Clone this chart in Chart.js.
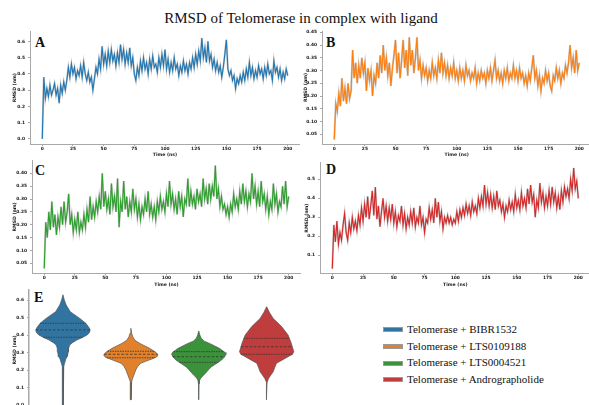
<!DOCTYPE html>
<html><head><meta charset="utf-8">
<script src="https://cdn.jsdelivr.net/npm/chart.js@4.4.0/dist/chart.umd.min.js"></script>
<style>
html,body{margin:0;padding:0;width:589px;height:405px;overflow:hidden;background:#fff;position:relative}
canvas{position:absolute}
.t{position:absolute;font-family:"Liberation Serif","Times New Roman",serif;color:#111;white-space:nowrap;line-height:1}
.lt{font-weight:bold;font-size:14px}
.patch{position:absolute;width:20px;height:5px;border:0.5px solid #999;box-sizing:border-box}
</style></head><body>
<div class="t" style="left:0;width:602px;text-align:center;top:11.4px;font-size:15px">RMSD of Telomerase in complex with ligand</div>
<div class="t lt" style="left:35px;top:36px">A</div>
<div class="t lt" style="left:326px;top:35.6px">B</div>
<div class="t lt" style="left:35px;top:163.5px">C</div>
<div class="t lt" style="left:326px;top:162.6px">D</div>
<div class="t lt" style="left:34px;top:290.6px">E</div>
<div id="legend"></div>
<script>
// ---------- data ----------
const timeStart = 0, timeEnd = 200;
const xTicks = [0,25,50,75,100,125,150,175,200];
const xTickLabels = ['0','25','50','75','100','125','150','175','200'];

const series = ['Telomerase + BIBR1532','Telomerase + LTS0109188','Telomerase + LTS0004521','Telomerase + Andrographolide'];

const rmsdA = [0.00,0.38,0.25,0.31,0.26,0.33,0.27,0.30,0.34,0.27,
0.31,0.22,0.33,0.28,0.35,0.30,0.36,0.44,0.38,0.46,
0.40,0.44,0.37,0.42,0.39,0.45,0.38,0.47,0.40,0.36,
0.41,0.35,0.38,0.30,0.37,0.44,0.40,0.49,0.43,0.57,
0.46,0.52,0.45,0.54,0.47,0.55,0.48,0.52,0.45,0.53,
0.47,0.58,0.49,0.55,0.46,0.53,0.47,0.56,0.45,0.50,
0.40,0.36,0.44,0.39,0.48,0.42,0.50,0.43,0.47,0.40,
0.49,0.43,0.51,0.44,0.46,0.41,0.50,0.44,0.52,0.45,
0.55,0.43,0.49,0.41,0.47,0.42,0.50,0.43,0.46,0.39,
0.45,0.41,0.48,0.42,0.46,0.40,0.47,0.43,0.50,0.44,
0.52,0.46,0.54,0.48,0.62,0.50,0.56,0.47,0.60,0.48,
0.52,0.44,0.49,0.42,0.47,0.41,0.45,0.38,0.44,0.52,
0.61,0.43,0.39,0.42,0.36,0.39,0.31,0.37,0.34,0.39,
0.35,0.41,0.36,0.43,0.38,0.47,0.39,0.44,0.37,0.42,
0.38,0.45,0.40,0.43,0.37,0.44,0.39,0.46,0.40,0.42,
0.36,0.48,0.41,0.44,0.38,0.43,0.36,0.41,0.37,0.43,
0.39];
const rmsdB = [0.03,0.17,0.14,0.21,0.16,0.27,0.18,0.23,0.17,0.25,
0.19,0.22,0.38,0.27,0.33,0.25,0.32,0.27,0.35,0.29,
0.33,0.22,0.31,0.26,0.30,0.20,0.28,0.25,0.33,0.27,
0.36,0.29,0.40,0.30,0.35,0.28,0.33,0.24,0.31,0.36,
0.42,0.29,0.37,0.27,0.34,0.42,0.31,0.38,0.28,0.43,
0.32,0.38,0.29,0.35,0.43,0.30,0.34,0.27,0.32,0.28,
0.31,0.26,0.30,0.27,0.33,0.28,0.31,0.27,0.34,0.29,
0.37,0.29,0.33,0.28,0.32,0.27,0.31,0.28,0.33,0.27,
0.30,0.26,0.31,0.27,0.30,0.26,0.32,0.28,0.30,0.26,
0.29,0.27,0.31,0.25,0.29,0.26,0.30,0.27,0.29,0.25,
0.30,0.27,0.31,0.26,0.30,0.34,0.27,0.30,0.26,0.29,
0.25,0.30,0.27,0.31,0.26,0.29,0.27,0.32,0.27,0.30,
0.26,0.31,0.27,0.29,0.25,0.28,0.24,0.29,0.26,0.31,
0.36,0.27,0.30,0.24,0.28,0.22,0.27,0.25,0.30,0.26,
0.29,0.24,0.22,0.28,0.26,0.31,0.27,0.30,0.25,0.29,
0.27,0.32,0.29,0.33,0.40,0.31,0.35,0.29,0.38,0.30,
0.33];
const rmsdC = [0.03,0.21,0.15,0.25,0.18,0.29,0.19,0.24,0.16,0.23,
0.19,0.27,0.20,0.29,0.21,0.25,0.32,0.20,0.24,0.17,
0.22,0.18,0.25,0.17,0.21,0.18,0.24,0.19,0.26,0.21,
0.31,0.22,0.27,0.23,0.29,0.25,0.31,0.26,0.40,0.27,
0.33,0.26,0.30,0.24,0.36,0.27,0.31,0.25,0.38,0.19,
0.29,0.25,0.37,0.26,0.31,0.23,0.29,0.25,0.34,0.26,
0.30,0.23,0.28,0.22,0.27,0.24,0.30,0.25,0.33,0.24,
0.28,0.23,0.27,0.22,0.29,0.25,0.31,0.26,0.29,0.25,
0.32,0.27,0.37,0.28,0.32,0.26,0.30,0.24,0.33,0.27,
0.31,0.23,0.30,0.28,0.38,0.27,0.33,0.28,0.31,0.26,
0.34,0.29,0.32,0.27,0.38,0.30,0.34,0.28,0.36,0.30,
0.35,0.31,0.43,0.30,0.34,0.27,0.31,0.26,0.28,0.24,
0.27,0.23,0.28,0.25,0.32,0.27,0.30,0.26,0.33,0.28,
0.36,0.29,0.33,0.27,0.32,0.29,0.40,0.30,0.35,0.28,
0.33,0.27,0.37,0.29,0.32,0.26,0.31,0.24,0.29,0.26,
0.36,0.28,0.32,0.25,0.29,0.27,0.35,0.28,0.37,0.27,
0.31];
const rmsdD = [0.03,0.26,0.17,0.28,0.16,0.22,0.18,0.26,0.32,0.22,
0.18,0.27,0.22,0.30,0.24,0.28,0.23,0.31,0.26,0.35,
0.28,0.37,0.30,0.41,0.29,0.36,0.44,0.31,0.46,0.29,
0.36,0.25,0.33,0.40,0.30,0.36,0.28,0.35,0.29,0.37,
0.27,0.33,0.25,0.31,0.28,0.36,0.26,0.32,0.24,0.30,
0.26,0.33,0.27,0.35,0.25,0.30,0.27,0.36,0.26,0.30,
0.22,0.29,0.27,0.35,0.29,0.34,0.27,0.40,0.30,0.38,
0.28,0.33,0.24,0.30,0.27,0.31,0.27,0.30,0.26,0.29,
0.27,0.33,0.28,0.34,0.30,0.35,0.31,0.37,0.32,0.36,
0.31,0.38,0.33,0.36,0.32,0.40,0.35,0.41,0.36,0.47,
0.37,0.43,0.36,0.42,0.35,0.41,0.34,0.44,0.36,0.39,
0.33,0.37,0.30,0.36,0.33,0.39,0.34,0.38,0.33,0.42,
0.35,0.39,0.34,0.43,0.36,0.40,0.35,0.45,0.37,0.47,
0.38,0.42,0.30,0.39,0.35,0.48,0.38,0.43,0.35,0.41,
0.36,0.44,0.37,0.46,0.38,0.43,0.35,0.41,0.34,0.44,
0.38,0.46,0.41,0.45,0.40,0.50,0.44,0.56,0.45,0.49,
0.40];

const yTicksA = [0.0,0.1,0.2,0.3,0.4,0.5,0.6];
const yTickLabelsA = ['0.0','0.1','0.2','0.3','0.4','0.5','0.6'];
const yTicksB = [0.05,0.10,0.15,0.20,0.25,0.30,0.35,0.40,0.45];
const yTickLabelsB = ['0.05','0.10','0.15','0.20','0.25','0.30','0.35','0.40','0.45'];
const yTicksC = [0.05,0.10,0.15,0.20,0.25,0.30,0.35,0.40];
const yTickLabelsC = ['0.05','0.10','0.15','0.20','0.25','0.30','0.35','0.40'];
const yTicksD = [0.1,0.2,0.3,0.4,0.5];
const yTickLabelsD = ['0.1','0.2','0.3','0.4','0.5'];
const yTicksE = [0.0,0.1,0.2,0.3,0.4,0.5,0.6];
const yTickLabelsE = ['0.0','0.1','0.2','0.3','0.4','0.5','0.6'];

// violin profiles: RMSD level (top to bottom) and relative half-width (0..1)
const violinLevels = [
 [0.63,0.60,0.571,0.533,0.495,0.467,0.445,0.429,0.415,0.40,0.385,0.371,0.355,0.343,0.325,0.305,0.29,0.276,0.26,0.238,0.22,0.20,0.0],
 [0.438,0.41,0.39,0.37,0.352,0.324,0.30,0.286,0.275,0.267,0.25,0.238,0.22,0.20,0.171,0.15,0.133,0.11,0.03],
 [0.423,0.40,0.381,0.365,0.352,0.324,0.30,0.29,0.275,0.257,0.24,0.219,0.20,0.181,0.165,0.152,0.14,0.12,0.03],
 [0.562,0.53,0.495,0.448,0.40,0.352,0.32,0.305,0.29,0.276,0.255,0.238,0.215,0.19,0.17,0.152,0.13,0.11,0.03]
];
const violinWidths = [
 [0,0.05,0.12,0.27,0.62,0.84,0.95,1.0,0.98,0.89,0.70,0.51,0.34,0.25,0.21,0.20,0.18,0.15,0.10,0.06,0.03,0.015,0.006],
 [0,0.03,0.07,0.15,0.33,0.69,0.93,1.0,0.95,0.84,0.55,0.36,0.25,0.18,0.11,0.06,0.03,0.012,0.006],
 [0,0.04,0.09,0.20,0.40,0.76,0.97,1.0,0.95,0.84,0.68,0.47,0.35,0.25,0.14,0.07,0.03,0.012,0.006],
 [0,0.10,0.24,0.55,0.79,0.91,0.97,1.0,0.95,0.79,0.55,0.36,0.30,0.24,0.15,0.07,0.02,0.01,0.006]
];
const quartiles = [
 [0.387,0.429,0.467],
 [0.270,0.290,0.307],
 [0.244,0.276,0.305],
 [0.290,0.333,0.381]
];

// ---------- styles ----------
const lineColors = ['#1f77b4','#ff7f0e','#2ca02c','#d62728'];
const violinColors = ['#3274a1','#e1812c','#3a923a','#c03d3e'];
const axisColor = '#a8a8a8';
const tickFont = {family:'DejaVu Sans', size:4.4, weight:'bold'};
const titleFont = {family:'DejaVu Sans', size:4.6, weight:'bold'};

Chart.defaults.animation = false;

function setTicks(vals){ return s => { s.ticks = vals.map(v=>({value:v})); }; }

function makeTS(p){
  const cv = document.createElement('canvas');
  const xH = 14, padTop = 8;
  const top = Math.floor(p.T) - padTop;
  const w = Math.ceil(p.R - p.axisLeft);
  const h = Math.ceil(p.B + xH - top);
  cv.width = w; cv.height = h;
  cv.style.left = p.axisLeft + 'px'; cv.style.top = top + 'px';
  cv.style.width = w + 'px'; cv.style.height = h + 'px';
  document.body.appendChild(cv);
  const yW = p.L - p.axisLeft;
  const pts = p.values.map((v,i)=>({x: timeStart + i*(timeEnd-timeStart)/(p.values.length-1), y: v}));
  new Chart(cv, {
    type:'line',
    data:{datasets:[
      {data:pts, borderColor:'rgba(120,120,120,0.4)', borderWidth:2, pointRadius:0, tension:0, order:2},
      {data:pts, borderColor:p.color, borderWidth:1.1, pointRadius:0, tension:0, order:1}
    ]},
    options:{
      responsive:false, devicePixelRatio:1, animation:false,
      layout:{padding:{top:p.T-top, right:w-(p.R-p.axisLeft), bottom:h-(p.B+xH-top), left:0}},
      plugins:{legend:{display:false}, tooltip:{enabled:false}},
      scales:{
        x:{type:'linear', min:-10, max:210,
           afterBuildTicks:setTicks(xTicks), afterFit:s=>{s.height=xH;},
           ticks:{font:tickFont, color:'#1a1a1a', padding:0, maxRotation:0, autoSkip:false, callback:(v,i)=>xTickLabels[i]},
           grid:{display:true, drawOnChartArea:false, tickLength:2, color:axisColor},
           border:{display:true, color:axisColor, width:1},
           title:{display:true, text:'Time (ns)', font:titleFont, color:'#1a1a1a', padding:0}},
        y:{type:'linear', min:p.yMin, max:p.yMax,
           afterBuildTicks:setTicks(p.yTicks), afterFit:s=>{s.width=yW;},
           ticks:{font:tickFont, color:'#1a1a1a', padding:3, autoSkip:false, callback:(v,i)=>p.yLabels[i]},
           grid:{display:true, drawOnChartArea:false, tickLength:2, color:axisColor},
           border:{display:true, color:axisColor, width:1},
           title:{display:true, text:'RMSD (nm)', font:titleFont, color:'#1a1a1a', padding:0}}
      }
    }
  });
}

makeTS({axisLeft:12, L:30, R:300, T:31.4, B:144, yMin:-0.0315, yMax:0.6615, yTicks:yTicksA, yLabels:yTickLabelsA, values:rmsdA, color:lineColors[0]});
makeTS({axisLeft:303, L:322, R:591.5, T:31, B:144, yMin:0.012, yMax:0.455, yTicks:yTicksB, yLabels:yTickLabelsB, values:rmsdB, color:lineColors[1]});
makeTS({axisLeft:12, L:32, R:300.9, T:160.5, B:273.3, yMin:0.011, yMax:0.45, yTicks:yTicksC, yLabels:yTickLabelsC, values:rmsdC, color:lineColors[2]});
makeTS({axisLeft:304, L:320, R:590.6, T:162.9, B:273.3, yMin:0.0053, yMax:0.5865, yTicks:yTicksD, yLabels:yTickLabelsD, values:rmsdD, color:lineColors[3]});

// ---------- violin panel ----------
function halfWidthAt(levels, widths, q){
  for(let i=0;i<levels.length-1;i++){
    const a=levels[i], b=levels[i+1];
    if(q<=a && q>=b){ const f=(a-q)/(a-b); return widths[i]+(widths[i+1]-widths[i])*f; }
  }
  return 0;
}
(function(){
  const cv = document.createElement('canvas');
  const axisLeft = 12, L = 29, R = 300.6, T = 289.5, top = 282, B = 410.25;
  const w = Math.ceil(R-axisLeft), h = Math.ceil(B - top + 8);
  cv.width=w; cv.height=h; cv.style.left=axisLeft+'px'; cv.style.top=top+'px';
  cv.style.width=w+'px'; cv.style.height=h+'px';
  document.body.appendChild(cv);
  const maxHalf = 0.4;
  const datasets = [];
  violinLevels.forEach((lv,k)=>{
    const wd = violinWidths[k];
    const right = lv.map((y,i)=>({x:k+wd[i]*maxHalf, y}));
    const left = lv.map((y,i)=>({x:k-wd[i]*maxHalf, y})).reverse();
    datasets.push({data:right.concat(left), showLine:true, fill:'shape', backgroundColor:violinColors[k],
      borderColor:'#555', borderWidth:0.7, pointRadius:0, tension:0, order:2});
  });
  quartiles.forEach((qs,k)=>{
    qs.forEach((q,j)=>{
      const hw = halfWidthAt(violinLevels[k], violinWidths[k], q)*maxHalf;
      datasets.push({data:[{x:k-hw,y:q},{x:k+hw,y:q}], showLine:true, fill:false, borderColor:'#333',
        borderWidth:0.8, borderDash: j===1 ? [2.5,1.8] : [1.5,1], pointRadius:0, order:1});
    });
  });
  new Chart(cv,{
    type:'scatter',
    data:{datasets},
    options:{
      responsive:false, devicePixelRatio:1, animation:false,
      layout:{padding:{top:T-top, right:w-(R-axisLeft), bottom:h-(B-top), left:0}},
      plugins:{legend:{display:false}, tooltip:{enabled:false}},
      scales:{
        x:{type:'linear', min:-0.5, max:3.5, display:false},
        y:{type:'linear', min:-0.03, max:0.66,
           afterBuildTicks:setTicks(yTicksE), afterFit:s=>{s.width=L-axisLeft;},
           ticks:{font:tickFont, color:'#1a1a1a', padding:3, autoSkip:false, callback:(v,i)=>yTickLabelsE[i]},
           grid:{display:true, drawOnChartArea:false, tickLength:2, color:axisColor},
           border:{display:true, color:axisColor, width:1.5},
           title:{display:true, text:'RMSD (nm)', font:titleFont, color:'#1a1a1a', padding:0}}
      }
    }
  });
})();

// ---------- legend ----------
(function(){
  const lg = document.getElementById('legend');
  series.forEach((name,i)=>{
    const cy = 330 + i*16.6;
    const p = document.createElement('div');
    p.className='patch';
    p.style.left='383px'; p.style.top=(cy-2.7)+'px'; p.style.background=violinColors[i];
    lg.appendChild(p);
    const t = document.createElement('div');
    t.className='t'; t.style.left='407px'; t.style.top=(cy-6)+'px'; t.style.fontSize='11px';
    t.textContent = name;
    lg.appendChild(t);
  });
})();
</script>
</body></html>
